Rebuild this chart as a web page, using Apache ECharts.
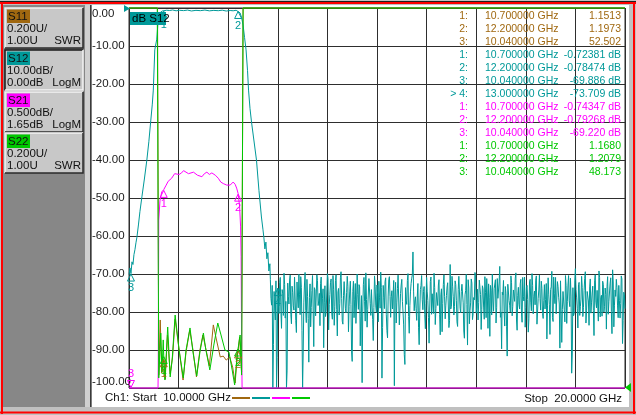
<!DOCTYPE html>
<html>
<head>
<meta charset="utf-8">
<script src="https://cdn.jsdelivr.net/npm/echarts@6/dist/echarts.min.js"></script>
<style>
html, body { margin: 0; padding: 0; background: #c0c0c0; }
#main { width: 636px; height: 415px; }
</style>
</head>
<body>
<div id="main"></div>
<script>
// sweep
var startGHz = 10, stopGHz = 20;

// S12 skirts (GHz / dB)
var s12Freq = [10.00, 10.02, 10.04, 10.06, 10.08, 10.10, 10.12, 10.14, 10.16, 10.19,
  10.22, 10.26, 10.31, 10.36, 10.40, 10.44, 10.47, 10.49, 10.52, 10.56,
  10.58, 10.60, 10.62, 10.64, 10.67, 10.70, 10.76, 10.82, 10.88, 10.95,
  11.02, 11.10, 11.18, 11.26, 11.35, 11.44, 11.53, 11.62, 11.71, 11.80,
  11.88, 11.96, 12.04, 12.10, 12.16, 12.20, 12.24, 12.27, 12.30, 12.33,
  12.36, 12.39, 12.41, 12.44, 12.47, 12.52, 12.57, 12.62, 12.67, 12.70,
  12.72, 12.74, 12.76, 12.78, 12.80, 12.82, 12.84];
var s12Db = [-70.2, -68.4, -69.9, -66.8, -67.5, -64.9, -63.6, -61.8, -60.3, -57.1,
  -53.6, -49.7, -45.0, -40.0, -35.2, -29.5, -25.3, -21.6, -11.0, -8.2,
  -4.6, -2.4, -1.3, -0.95, -0.8, -0.72, -0.58, -0.66, -0.52, -0.74,
  -0.6, -0.69, -0.55, -0.78, -0.62, -0.7, -0.54, -0.75, -0.63, -0.71,
  -0.57, -0.8, -0.66, -0.73, -0.6, -0.78, -1.3, -2.5, -4.5, -7.8,
  -11.0, -16.5, -21.6, -26.5, -30.0, -35.0, -40.0, -48.0, -55.0, -58.2,
  -60.5, -63.4, -61.6, -66.0, -64.4, -69.2, -67.3];

var noiseStart = 12.85, noiseStep = 0.025;
var s12Floor = [
  -71.5, -78.2, -100, -74.6, -82.1, -100, -73.7, -80.4, -70.9, -84.3, -75.2, -69.8, -81.6, -100, -72.4, -77.9, -70.3, -83.1, -74.8, -79.5,
  -71.2, -85.4, -76.3, -70.1, -80.7, -73.5, -100, -77.4, -69.6, -82.8, -75.9, -93.2, -72.6, -78.8, -70.4, -89.1, -74.2, -81.3, -71.7, -77.1,
  -83.6, -70.8, -76.5, -89.4, -73.1, -79.9, -69.9, -84.7, -75.4, -71.3, -81.9, -74.0, -78.6, -70.2, -86.3, -73.8, -77.7, -69.4, -82.4, -75.6,
  -72.1, -80.2, -70.6, -85.2, -74.5, -78.1, -93.0, -71.9, -76.8, -83.0, -70.0, -79.3, -73.4, -81.1, -98.6, -72.8, -77.3, -69.7, -84.0, -75.0,
  -71.6, -80.9, -74.3, -87.5, -70.5, -78.4, -72.9, -82.6, -76.1, -69.5, -97.4, -73.0, -79.1, -71.0, -84.9, -75.8, -70.7, -81.4, -74.4, -78.9,
  -99.4, -72.2, -77.6, -70.3, -83.4, -75.1, -71.4, -80.0, -91.2, -73.6, -78.0, -69.9, -85.6, -74.7, -71.1, -64.2, -79.7, -76.0, -82.2, -72.5,
  -88.6, -74.1, -70.4, -79.4, -73.3, -84.4, -70.9, -77.0, -88.2, -72.0, -80.6, -75.3, -69.8, -83.3, -74.9, -78.3, -71.5, -86.0, -73.9, -77.8,
  -70.2, -81.8, -75.7, -72.3, -84.1, -67.5, -78.5, -73.2, -80.8, -71.8, -76.9, -83.8, -70.6, -79.0, -74.6, -72.7, -85.0, -75.5, -70.1, -88.7,
  -73.7, -79.6, -71.3, -82.0, -76.2, -69.6, -80.3, -74.0, -77.5, -71.9, -84.6, -73.1, -78.7, -70.7, -81.5, -75.8, -72.6, -86.4, -74.3, -70.0,
  -79.8, -73.4, -82.9, -71.2, -76.6, -68.0, -80.1, -74.8, -71.7, -83.7, -75.1, -91.6, -72.4, -78.2, -70.5, -81.0, -74.2, -77.2, -69.7, -84.8,
  -73.5, -79.2, -71.4, -82.7, -75.9, -70.8, -78.8, -73.0, -85.3, -72.1, -77.4, -69.9, -80.5, -74.5, -71.6, -83.2, -76.4, -70.3, -79.5, -73.8,
  -81.7, -72.8, -76.7, -87.1, -71.0, -78.1, -74.1, -69.3, -82.5, -75.2, -70.9, -80.7, -73.3, -77.9, -71.8, -88.0, -74.6, -79.4, -70.4, -83.0,
  -72.9, -77.0, -71.1, -96.1, -73.6, -80.4, -68.6, -76.3, -84.2, -72.2, -78.6, -70.6, -81.2, -74.4, -69.4, -79.7, -75.0, -83.5, -71.3, -77.6,
  -73.2, -86.2, -70.2, -78.9, -74.0, -69.2, -81.3, -75.6, -71.9, -80.0, -73.7, -84.5, -70.7, -77.3, -72.4, -79.9, -68.9, -83.9, -74.2, -71.4,
  -78.4, -73.0, -81.6, -70.5, -88.3, -74.8, -79.1];
// the in-between sweep points (half a step after each point above)
var s12FloorMid = [
  -76.4, -73.0, -88.5, -79.2, -71.8, -92.0, -77.5, -72.3, -79.8, -74.1, -80.9, -72.7, -77.2, -95.3, -75.9, -71.6, -80.6, -73.2, -78.4, -70.8,
  -82.3, -72.1, -78.9, -75.5, -70.7, -84.8, -90.2, -72.9, -79.6, -71.4, -81.7, -76.2, -83.9, -74.3, -79.5, -73.6, -81.0, -70.2, -78.3, -75.1,
  -72.5, -80.1, -73.9, -77.6, -81.2, -75.0, -71.2, -78.0, -72.2, -80.3, -70.4, -83.5, -71.7, -79.4, -74.7, -80.8, -71.0, -76.4, -83.2, -72.0,
  -79.0, -74.8, -73.2, -78.5, -71.9, -90.5, -74.6, -81.5, -72.5, -77.9, -75.4, -72.8, -88.9, -75.7, -79.8, -70.9, -82.4, -76.7, -79.3, -71.2,
  -77.8, -74.1, -82.0, -78.8, -73.2, -80.1, -75.3, -71.9, -79.0, -73.6, -84.1, -76.2, -72.0, -80.6, -86.8, -71.5, -75.9, -76.0, -79.2, -71.7,
  -75.3, -82.9, -73.8, -70.6, -79.6, -72.9, -77.2, -83.4, -93.8, -76.9, -71.7, -81.2, -78.3, -72.5, -70.2, -74.5, -77.1, -79.1, -75.8, -84.0,
  -79.7, -73.0, -76.8, -74.6, -80.7, -77.8, -74.7, -81.4, -79.5, -70.8, -75.2, -80.4, -73.6, -79.1, -75.3, -72.9, -80.6, -75.5, -85.2, -72.8,
  -76.0, -78.2, -73.4, -71.9, -82.3, -79.2, -70.6, -76.0, -78.6, -72.8, -82.6, -74.1, -70.9, -80.2, -72.7, -77.6, -86.9, -74.3, -78.0, -71.5,
  -83.1, -77.6, -72.4, -80.5, -76.8, -70.3, -78.7, -82.1, -71.6, -75.4, -79.3, -73.9, -81.9, -74.8, -71.2, -84.3, -76.1, -73.0, -80.8, -77.1,
  -73.9, -71.5, -78.9, -76.4, -72.1, -81.4, -89.7, -75.5, -79.8, -73.3, -83.9, -72.7, -77.0, -80.0, -72.3, -78.5, -74.7, -71.1, -82.1, -75.6,
  -78.0, -72.6, -80.2, -70.9, -77.1, -84.0, -73.6, -76.7, -81.8, -71.4, -79.7, -73.0, -75.9, -78.1, -70.5, -82.8, -74.2, -76.5, -71.9, -80.4,
  -76.9, -79.2, -72.5, -78.4, -75.3, -85.9, -73.4, -81.5, -70.8, -77.8, -80.5, -72.0, -76.1, -89.5, -71.7, -79.3, -74.9, -82.6, -73.1, -77.3,
  -70.4, -78.6, -75.8, -90.8, -81.0, -71.6, -74.1, -79.0, -72.8, -80.9, -76.6, -73.5, -78.8, -71.2, -82.9, -74.6, -77.1, -73.4, -80.3, -75.0,
  -79.6, -71.8, -77.4, -74.3, -82.4, -70.9, -76.2, -81.1, -72.7, -78.5, -75.4, -73.3, -80.6, -76.8, -71.0, -85.7, -72.1, -78.2, -75.9, -73.6,
  -81.5, -76.9, -77.8, -71.3, -82.2, -75.4];

// S21 passband (dB, 0.5 dB/div, ref 1.65 dB at top)
var s21Freq = [10.00, 10.585, 10.59, 10.60, 10.625, 10.66, 10.70, 10.75, 10.79, 10.86,
  10.92, 10.96, 11.01, 11.06, 11.10, 11.13, 11.20, 11.30, 11.38, 11.47,
  11.52, 11.57, 11.62, 11.67, 11.74, 11.80, 11.85, 11.90, 11.97, 12.04,
  12.10, 12.14, 12.17, 12.20, 12.23, 12.25, 12.26, 12.27, 12.28, 20.00];
var s21Db = [-3.35, -3.35, -3.06, -1.14, -0.88, -0.77, -0.74, -0.68, -0.63, -0.59,
  -0.53, -0.51, -0.54, -0.52, -0.49, -0.50, -0.53, -0.51, -0.55, -0.57,
  -0.53, -0.51, -0.54, -0.52, -0.55, -0.59, -0.64, -0.66, -0.68, -0.68,
  -0.64, -0.67, -0.72, -0.79, -0.96, -1.23, -1.62, -2.70, -3.35, -3.35];

// S11 / S22 SWR (0.2 U/div, ref 1.00 U at bottom)
var s11Freq = [10.00, 10.575, 10.60, 10.63, 10.66, 10.70, 10.73, 10.775, 10.83, 10.88,
  10.93, 11.00, 11.09, 11.15, 11.225, 11.29, 11.36, 11.43, 11.49, 11.55,
  11.62, 11.70, 11.76, 11.84, 11.90, 11.96, 12.03, 12.09, 12.14, 12.18,
  12.20, 12.23, 12.27, 12.30, 20.00];
var s11Swr = [3.0, 3.0, 1.068, 1.358, 1.079, 1.151, 1.047, 1.279, 1.074, 1.168,
  1.363, 1.221, 1.042, 1.189, 1.305, 1.2, 1.058, 1.2, 1.279, 1.205,
  1.116, 1.332, 1.258, 1.163, 1.168, 1.147, 1.163, 1.11, 1.026, 1.158,
  1.197, 1.268, 1.084, 3.0, 3.0];
var s22Freq = [10.00, 10.57, 10.60, 10.64, 10.665, 10.69, 10.70, 10.725, 10.78, 10.83,
  10.87, 10.93, 11.01, 11.095, 11.15, 11.23, 11.29, 11.365, 11.43, 11.50,
  11.55, 11.63, 11.71, 11.79, 11.855, 11.935, 12.015, 12.08, 12.13, 12.18,
  12.20, 12.24, 12.27, 12.30, 20.00];
var s22Swr = [3.0, 3.0, 1.053, 1.289, 1.084, 1.253, 1.168, 1.042, 1.321, 1.058,
  1.147, 1.384, 1.2, 1.053, 1.2, 1.316, 1.189, 1.063, 1.189, 1.289,
  1.2, 1.095, 1.226, 1.342, 1.279, 1.2, 1.189, 1.095, 1.016, 1.174,
  1.208, 1.279, 1.068, 3.0, 3.0];

// markers
var markerFreq = [10.7, 12.2, 10.04, 13.0];
var s11Mk = [1.1513, 1.1973, 52.502];
var s12Mk = [-0.72381, -0.78474, -69.886, -73.709];
var s21Mk = [-0.74347, -0.79268, -69.220];
var s22Mk = [1.1680, 1.2079, 48.173];

// y ticks
var yTicks = [0, -10, -20, -30, -40, -50, -60, -70, -80, -90, -100];

var traceNames = ['S11', 'S12', 'S21', 'S22'];
var traceColors = ['#a06810', '#009999', '#ff00ff', '#00c800'];
var scaleText = ['0.200U/', '10.00dB/', '0.500dB/', '0.200U/'];
var refText = ['1.00U', '0.00dB', '1.65dB', '1.00U'];
var fmtText = ['SWR', 'LogM', 'LogM', 'SWR'];

var FONT = 'Liberation Sans';
var chart = echarts.init(document.getElementById('main'));

function pairs(xs, ys) {
  return xs.map(function (x, i) { return [x, ys[i]]; });
}
var s12Data = pairs(s12Freq, s12Db);
s12Floor.forEach(function (v, i) {
  s12Data.push([noiseStart + i * noiseStep, v]);
  if (i < s12FloorMid.length) s12Data.push([noiseStart + (i + 0.5) * noiseStep, s12FloorMid[i]]);
});

function clampv(v, lo, hi) { return Math.max(lo, Math.min(hi, v)); }

function marks(color, vals, lo, hi, count) {
  var data = [];
  for (var i = 0; i < count; i++) {
    var v = clampv(vals[i], lo, hi);
    var atBottom = vals[i] < lo;
    data.push({
      name: String(i + 1),
      coord: [markerFreq[i], v],
      symbolRotate: atBottom ? 180 : 0,
      symbolOffset: atBottom ? [0, -4] : [0, 4],
      label: { position: atBottom ? 'top' : 'bottom' }
    });
  }
  return {
    symbol: 'triangle',
    symbolSize: 7,
    silent: true,
    animation: false,
    itemStyle: { color: 'rgba(0,0,0,0)', borderColor: color, borderWidth: 1 },
    label: { show: true, formatter: '{b}', color: color, fontSize: 11, fontFamily: FONT, distance: 1 },
    data: data
  };
}

function line(name, data, color, yIdx, mp) {
  return {
    name: name, type: 'line', data: data, yAxisIndex: yIdx,
    showSymbol: false, symbol: 'none', clip: false, animation: false,
    lineStyle: { color: color, width: 1 },
    markPoint: mp
  };
}

// frame, left panel, readouts
var g = [];
g.push({ type: 'rect', z: -10, shape: { x: 92, y: 5, width: 537, height: 402 }, style: { fill: '#ffffff' } });
g.push({ type: 'rect', z: -10, shape: { x: 3, y: 5, width: 82, height: 402 }, style: { fill: '#878787' } });
g.push({ type: 'rect', z: -10, shape: { x: 85, y: 5, width: 5, height: 402 }, style: { fill: '#d0d0d0' } });
g.push({ type: 'rect', z: -10, shape: { x: 90, y: 5, width: 1.5, height: 402 }, style: { fill: '#3a3a3a' } });
g.push({ type: 'rect', z: 20, shape: { x: 0, y: 1, width: 636, height: 1 }, style: { fill: '#202020' } });
g.push({ type: 'rect', z: 20, shape: { x: 0, y: 2, width: 636, height: 2 }, style: { fill: '#ff0000' } });
g.push({ type: 'rect', z: 20, shape: { x: 1, y: 2, width: 2, height: 412 }, style: { fill: '#ff0000' } });
g.push({ type: 'rect', z: 20, shape: { x: 633, y: 2, width: 2, height: 412 }, style: { fill: '#ff0000' } });
g.push({ type: 'rect', z: 20, shape: { x: 0, y: 411.5, width: 636, height: 2 }, style: { fill: '#ff0000' } });

var btnTop = [8, 50, 92, 133];
traceNames.forEach(function (nm, i) {
  var x = 5, y = btnTop[i], w = 78, h = 40;
  var light = i === 1 ? '#1a1a1a' : '#f4f4f4';
  var dark = i === 1 ? '#f4f4f4' : '#2a2a2a';
  g.push({ type: 'rect', shape: { x: x, y: y, width: w, height: h }, style: { fill: '#c8c8c8' } });
  g.push({ type: 'polyline', shape: { points: [[x, y + h], [x, y], [x + w, y]] }, style: { stroke: light, lineWidth: 1.5, fill: null } });
  g.push({ type: 'polyline', shape: { points: [[x, y + h], [x + w, y + h], [x + w, y]] }, style: { stroke: dark, lineWidth: 1.5, fill: null } });
  g.push({ type: 'rect', shape: { x: 7, y: y + 1.5, width: 23, height: 13.5 }, style: { fill: traceColors[i] } });
  var t = function (txt, tx, ty, al) {
    g.push({ type: 'text', x: tx, y: ty, style: { text: txt, fill: '#111', fontSize: 11.5, fontFamily: FONT,
      textAlign: al, align: al, textVerticalAlign: 'middle', verticalAlign: 'middle' } });
  };
  t(nm, 8, y + 8.5, 'left');
  t(scaleText[i], 7, y + 21, 'left');
  t(refText[i], 7, y + 32.5, 'left');
  t(fmtText[i], 81, y + 32.5, 'right');
});

// trace label box
g.push({ type: 'rect', z: 15, shape: { x: 130, y: 12, width: 36, height: 13 }, style: { fill: '#009999' } });
g.push({ type: 'text', z: 16, x: 132, y: 18.5, style: { text: 'dB S12', fill: '#000', fontSize: 11.5, fontFamily: FONT,
  textVerticalAlign: 'middle', verticalAlign: 'middle' } });

// reference position arrows
g.push({ type: 'polygon', z: 15, shape: { points: [[124, 5], [124, 12], [130, 8.5]] }, style: { fill: '#009999' } });
g.push({ type: 'polygon', z: 15, shape: { points: [[631, 383], [631, 392], [625, 387.5]] }, style: { fill: '#00c800' } });

// marker readout table
function fmtVal(v, db) {
  var s = Math.abs(v) < 10 ? v.toFixed(db ? 5 : 4) : v.toFixed(3);
  return db ? s + ' dB' : s;
}
var rows = [];
[[s11Mk, 0, false], [s12Mk, 1, true], [s21Mk, 2, true], [s22Mk, 3, false]].forEach(function (r) {
  r[0].forEach(function (v, k) {
    rows.push({ no: (k === 3 ? '> ' : '') + (k + 1) + ':', f: markerFreq[k].toFixed(6) + ' GHz', v: fmtVal(v, r[2]), c: traceColors[r[1]] });
  });
});
rows.forEach(function (r, k) {
  var yy = 15.7 + k * 13.05;
  var base = { fill: r.c, fontSize: 10.5, fontFamily: FONT, textVerticalAlign: 'middle', verticalAlign: 'middle' };
  g.push({ type: 'text', z: 12, x: 468, y: yy, style: Object.assign({ text: r.no, textAlign: 'right', align: 'right' }, base) });
  g.push({ type: 'text', z: 12, x: 485, y: yy, style: Object.assign({ text: r.f, textAlign: 'left', align: 'left' }, base) });
  g.push({ type: 'text', z: 12, x: 621, y: yy, style: Object.assign({ text: r.v, textAlign: 'right', align: 'right' }, base) });
});

// bottom status line
g.push({ type: 'text', x: 105, y: 398, style: { text: 'Ch1: Start  ' + startGHz.toFixed(4) + ' GHz', fill: '#111', fontSize: 11.5,
  fontFamily: FONT, textVerticalAlign: 'middle', verticalAlign: 'middle' } });
g.push({ type: 'text', x: 622, y: 398.5, style: { text: 'Stop  ' + stopGHz.toFixed(4) + ' GHz', fill: '#111', fontSize: 11.5,
  fontFamily: FONT, textAlign: 'right', align: 'right', textVerticalAlign: 'middle', verticalAlign: 'middle' } });
traceColors.forEach(function (c, i) {
  g.push({ type: 'line', shape: { x1: 232 + i * 20, y1: 398, x2: 250 + i * 20, y2: 398 }, style: { stroke: c, lineWidth: 2 } });
});

var gridLine = { show: true, lineStyle: { color: '#2e2e2e', width: 1 } };

var option = {
  backgroundColor: '#c0c0c0',
  animation: false,
  textStyle: { fontFamily: FONT },
  grid: { left: 129, top: 8, width: 496, height: 380, show: true, borderColor: '#2e2e2e', borderWidth: 1, backgroundColor: 'transparent' },
  xAxis: {
    type: 'value', min: startGHz, max: stopGHz, interval: 1,
    axisLabel: { show: false }, axisTick: { show: false }, axisLine: { show: false },
    splitLine: gridLine
  },
  yAxis: [
    {
      type: 'value', min: yTicks[yTicks.length - 1], max: yTicks[0], interval: 10,
      axisLine: { show: false }, axisTick: { show: false }, splitLine: gridLine,
      axisLabel: {
        align: 'left', margin: 37, color: '#1a1a1a', fontSize: 11.5, fontFamily: FONT,
        verticalAlignMaxLabel: 'top', verticalAlignMinLabel: 'bottom',
        formatter: function (v) { return v.toFixed(2); }
      }
    },
    { type: 'value', min: -3.35, max: 1.65, show: false, splitLine: { show: false } },
    { type: 'value', min: 1, max: 3, show: false, splitLine: { show: false } }
  ],
  graphic: g,
  series: [
    line('S11', pairs(s11Freq, s11Swr), traceColors[0], 2, marks(traceColors[0], s11Mk, 1, 3, 2)),
    line('S12', s12Data, traceColors[1], 0, marks(traceColors[1], s12Mk, -100, 0, 4)),
    line('S21', pairs(s21Freq, s21Db), traceColors[2], 1, marks(traceColors[2], s21Mk, -3.35, 1.65, 3)),
    line('S22', pairs(s22Freq, s22Swr), traceColors[3], 2, marks(traceColors[3], s22Mk, 1, 3, 2))
  ]
};

chart.setOption(option);
</script>
</body>
</html>
